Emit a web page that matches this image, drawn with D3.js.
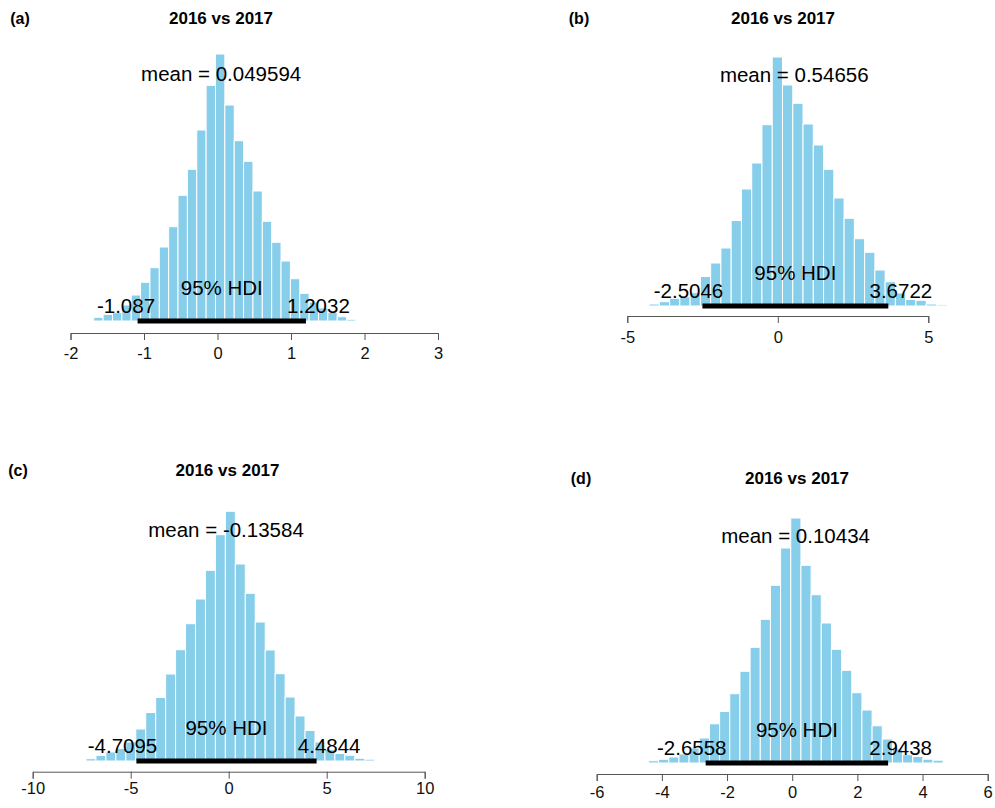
<html>
<head><meta charset="utf-8"></head>
<script src="https://cdn.jsdelivr.net/npm/d3@7/dist/d3.min.js"></script>
<body style="margin:0;background:white">
<div id="graph"></div>
</body>
<script>
// posterior histograms (bar heights in relative units)
var panelNames = ["(a)", "(b)", "(c)", "(d)"];
var titles = ["2016 vs 2017", "2016 vs 2017", "2016 vs 2017", "2016 vs 2017"];
var binStart = [-1.811, -4.618, -7.79, -4.724];
var binWidth = [0.1274, 0.341, 0.508, 0.312];
var countsA = [1, 3.7, 6.7, 8.3, 16, 26, 38.7, 53.3, 74, 94.3, 125.7, 151.7, 191, 235.7, 267,
               216, 180.3, 159.7, 130, 99.7, 78.7, 60, 42.3, 27.7, 19, 13, 8.5, 4.3, 1.7, 0.7];
var countsB = [1, 2, 4.3, 7.7, 9.3, 13.3, 29.5, 43, 58, 85.5, 117, 143, 181.3, 249,
               221, 202.7, 182, 161, 136.7, 108, 87.7, 67.3, 53.7, 36, 24.3, 13, 6.5, 5.7, 2, 1.3, 0.7];
var countsC = [1, 2.3, 5.5, 9, 12.5, 19, 32, 48.5, 63.5, 87, 111.3, 137.3, 162, 190.7, 226.3, 249.7,
               197, 167.7, 139, 111, 87.3, 64, 45, 30.5, 19, 11.5, 7.5, 5.7, 2.7, 1.8, 0.8];
var countsD = [1, 2.3, 3.7, 6, 9, 15, 25, 39.2, 51.5, 69.3, 91.7, 115.7, 143.7, 177.7, 215, 245,
               197.7, 168.3, 140, 113.7, 92.7, 70.3, 53, 37.2, 24, 14, 8.3, 6.5, 3.8, 2.8];
var means = [0.049594, 0.54656, -0.13584, 0.10434];
var meanLabels = ["0.049594", "0.54656", "-0.13584", "0.10434"];
var hdiLow = [-1.087, -2.5046, -4.7095, -2.6558];
var hdiHigh = [1.2032, 3.6722, 4.4844, 2.9438];
var hdiLowLabels = ["-1.087", "-2.5046", "-4.7095", "-2.6558"];
var hdiHighLabels = ["1.2032", "3.6722", "4.4844", "2.9438"];
var tickValues = [[-2, -1, 0, 1, 2, 3], [-5, 0, 5], [-10, -5, 0, 5, 10], [-6, -4, -2, 0, 2, 4, 6]];
var allCounts = [countsA, countsB, countsC, countsD];

// where each panel sits on the page
var layout = [
  {x0: 70.5, x1: 438, base: 321, top: 54, axisY: 333, pad: 7, nameX: 20, titleX: 221, titleY: 24},
  {x0: 627.3, x1: 928.3, base: 306, top: 57, axisY: 316, pad: 8, nameX: 579, titleX: 783, titleY: 24},
  {x0: 32.7, x1: 424.7, base: 761, top: 511.3, axisY: 771.7, pad: 4, nameX: 18, titleX: 227.5, titleY: 476},
  {x0: 596.7, x1: 987.7, base: 763, top: 518, axisY: 774, pad: 5, nameX: 581, titleX: 797, titleY: 484}
];

var FONT = "'Liberation Sans', Arial, sans-serif";
var svg = d3.select("#graph").append("svg")
  .attr("width", 995).attr("height", 808)
  .style("font-family", FONT);

panelNames.forEach(function (name, p) {
  var L = layout[p];
  var counts = allCounts[p];
  var ticks = tickValues[p];
  var X = d3.scaleLinear().domain([d3.min(ticks), d3.max(ticks)]).range([L.x0, L.x1]);
  var Y = d3.scaleLinear().domain([0, d3.max(counts)]).range([L.base, L.top]);
  var g = svg.append("g");

  var bins = counts.map(function (c, i) {
    return {lo: binStart[p] + i * binWidth[p], hi: binStart[p] + (i + 1) * binWidth[p], c: c};
  });

  g.selectAll("rect.bar").data(bins).enter().append("rect")
    .attr("class", "bar")
    .attr("x", function (d) { return X(d.lo); })
    .attr("width", function (d) { return X(d.hi) - X(d.lo); })
    .attr("y", function (d) { return Y(d.c); })
    .attr("height", function (d) { return Y(0) - Y(d.c); })
    .style("fill", "#87CEEB")
    .style("stroke", "white")
    .style("stroke-width", 1);

  // x axis, R style (plain hyphen for negatives)
  var axis = g.append("g").attr("transform", "translate(0," + L.axisY + ")")
    .call(d3.axisBottom(X).tickValues(ticks).tickSize(7).tickPadding(L.pad)
      .tickFormat(function (d) { return String(d); }));
  axis.select(".domain").attr("stroke", "#555");
  axis.selectAll(".tick line").attr("stroke", "#555");
  axis.selectAll(".tick text").attr("fill", "#111").style("font-size", "16.5px").style("font-family", FONT);

  // HDI bar
  g.append("line")
    .attr("x1", X(hdiLow[p])).attr("x2", X(hdiHigh[p]))
    .attr("y1", Y(0)).attr("y2", Y(0))
    .style("stroke", "black").style("stroke-width", 5);

  g.append("text").attr("x", X((hdiLow[p] + hdiHigh[p]) / 2)).attr("y", Y(0) - 26)
    .attr("text-anchor", "middle").style("font-size", "20.5px").text("95% HDI");

  var lowT = g.append("text").attr("y", Y(0) - 8).style("font-size", "20.5px").text(hdiLowLabels[p]);
  var w = lowT.node().getComputedTextLength();
  lowT.attr("x", X(hdiLow[p]) - 0.7 * w);
  var highT = g.append("text").attr("y", Y(0) - 8).style("font-size", "20.5px").text(hdiHighLabels[p]);
  w = highT.node().getComputedTextLength();
  highT.attr("x", X(hdiHigh[p]) - 0.3 * w);

  g.append("text").attr("x", X(means[p])).attr("y", Y(0.927 * d3.max(counts)) + 7.3)
    .attr("text-anchor", "middle").style("font-size", "20.5px")
    .text("mean = " + meanLabels[p]);

  g.append("text").attr("x", L.titleX).attr("y", L.titleY)
    .attr("text-anchor", "middle").style("font-size", "17px").style("font-weight", "bold")
    .text(titles[p]);
  g.append("text").attr("x", L.nameX).attr("y", L.titleY)
    .attr("text-anchor", "middle").style("font-size", "16px").style("font-weight", "bold")
    .text(name);
});
</script>
</html>
